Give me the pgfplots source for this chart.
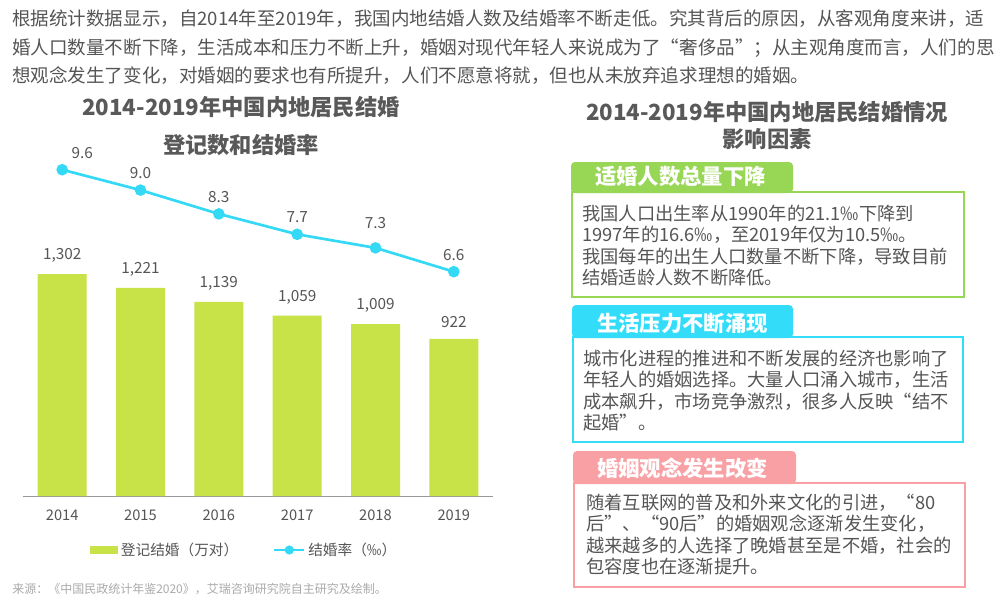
\documentclass[border=0pt]{standalone}
\usepackage{pgfplots}
\pgfplotsset{compat=1.18}
\usepackage{pgfplotstable}
\usepackage{fontspec}
\setmainfont{Noto Sans CJK SC}
\definecolor{bargreen}{HTML}{C8E348}
\definecolor{linecyan}{HTML}{33D9F5}
\definecolor{tabgreen}{HTML}{98D655}
\definecolor{tabcyan}{HTML}{33DDFA}
\definecolor{tabpink}{HTML}{F9A0A5}
\definecolor{txt}{HTML}{555555}
\definecolor{ttl}{HTML}{595959}
\definecolor{src}{HTML}{AAAAAA}

\pgfplotstableread{
x y lab
0 1302 1,302
1 1221 1,221
2 1139 1,139
3 1059 1,059
4 1009 1,009
5 922 922
}\bardata

\pgfplotstableread{
x y lab
0 9.6 9.6
1 9.0 9.0
2 8.3 8.3
3 7.7 7.7
4 7.3 7.3
5 6.6 6.6
}\ratedata

\begin{document}
\begin{tikzpicture}
\begin{scope}[x=0.75pt,y=-0.75pt]
\useasboundingbox (0,0) rectangle (1000,604);
\fill[white] (0,0) rectangle (1000,604);
% top paragraph
\begin{scope}[every node/.style={anchor=base west, inner sep=0pt, text=txt, font=\fontsize{13.9}{16}\selectfont}]
\node at (12,25) {根据统计数据显示，自2014年至2019年，我国内地结婚人数及结婚率不断走低。究其背后的原因，从客观角度来讲，适};
\node at (12,54) {婚人口数量不断下降，生活成本和压力不断上升，婚姻对现代年轻人来说成为了“奢侈品”；从主观角度而言，人们的思};
\node at (12,82) {想观念发生了变化，对婚姻的要求也有所提升，人们不愿意将就，但也从未放弃追求理想的婚姻。};
\end{scope}
% titles
\begin{scope}[every node/.style={anchor=base, inner sep=0pt, text=ttl, font=\fontsize{16.7}{19}\selectfont\bfseries}]
\node at (241,115) {2014-2019年中国内地居民结婚};
\node at (241,153) {登记数和结婚率};
\node at (767,120) {2014-2019年中国内地居民结婚情况};
\node at (767,147) {影响因素};
\end{scope}
% tabs and boxes
\fill[tabgreen, rounded corners=3] (571,193) -- (571,162) -- (793,162) -- (793,193) -- cycle;
\draw[tabgreen, line width=1.9pt] (572,192) rectangle (964,297);
\fill[tabcyan, rounded corners=3] (572,338) -- (572,305) -- (793,305) -- (793,338) -- cycle;
\draw[tabcyan, line width=1.9pt] (573,337) rectangle (963,442);
\fill[tabpink, rounded corners=3] (573,484) -- (573,451) -- (796,451) -- (796,484) -- cycle;
\draw[tabpink, line width=1.9pt] (574,483) rectangle (965,587);
\begin{scope}[every node/.style={anchor=base west, inner sep=0pt, text=white, font=\fontsize{16}{18}\selectfont\bfseries}]
\node at (595,184) {适婚人数总量下降};
\node at (597,331) {生活压力不断涌现};
\node at (597,476) {婚姻观念发生改变};
\end{scope}
\begin{scope}[every node/.style={anchor=base west, inner sep=0pt, text=txt, font=\fontsize{13.7}{16}\selectfont}]
\node at (582,220) {我国人口出生率从1990年的21.1‰下降到};
\node at (582,241.5) {1997年的16.6‰，至2019年仅为10.5‰。};
\node at (582,263) {我国每年的出生人口数量不断下降，导致目前};
\node at (582,284.5) {结婚适龄人数不断降低。};
\node at (583,365) {城市化进程的推进和不断发展的经济也影响了};
\node at (583,386.5) {年轻人的婚姻选择。大量人口涌入城市，生活};
\node at (583,408) {成本飙升，市场竞争激烈，很多人反映“结不};
\node at (583,429.5) {起婚”。};
\node at (586,509) {随着互联网的普及和外来文化的引进，“80};
\node at (586,530.5) {后”、“90后”的婚姻观念逐渐发生变化，};
\node at (586,552) {越来越多的人选择了晚婚甚至是不婚，社会的};
\node at (586,573.5) {包容度也在逐渐提升。};
\end{scope}
\node[anchor=base west, inner sep=0pt, text=src, font=\fontsize{9}{11}\selectfont] at (12,593) {来源：《中国民政统计年鉴2020》，艾瑞咨询研究院自主研究及绘制。};
\end{scope}

% bar axis
\begin{axis}[
 at={(17.25pt,-372pt)}, anchor=south west,
 width=352.5pt, height=259.5pt, scale only axis,
 xmin=-0.5, xmax=5.5, ymin=0, ymax=2031,
 clip=false,
 axis x line*=bottom, axis y line=none,
 x axis line style={draw=black!40, line width=0.6pt, -},
 xtick={0,...,5}, xticklabels={2014,2015,2016,2017,2018,2019},
 ytick=\empty,
 major tick length=0pt,
 xticklabel style={font=\fontsize{11}{13}\selectfont, text=txt, yshift=-7pt},
 ybar, bar width=36.75pt,
 nodes near coords, point meta=explicit symbolic,
 every node near coord/.append style={font=\fontsize{11.5}{13}\selectfont, text=txt, yshift=5pt},
 legend columns=2,
 legend cell align=left,
 legend style={at={(rel axis cs:0.1426,0)}, anchor=west, yshift=-40.5pt, draw=none, fill=none, inner sep=0pt,
   font=\fontsize{11}{13}\selectfont, text=txt,
   /tikz/every even column/.append style={column sep=24pt}},
]
\addplot[fill=bargreen, draw=none,
  legend image code/.code={\fill[bargreen] (0pt,-3pt) rectangle (21pt,3pt);}]
  table[x=x,y=y,meta=lab]{\bardata};
\addlegendentry{登记结婚（万对）}
\addlegendimage{legend image code/.code={\draw[linecyan, line width=2pt] (0pt,0pt) -- (22.5pt,0pt); \fill[linecyan] (11.25pt,0pt) circle (3.2pt);}}
\addlegendentry{结婚率（‰）}
\end{axis}

% rate axis
\begin{axis}[
 at={(17.25pt,-372pt)}, anchor=south west,
 width=352.5pt, height=259.5pt, scale only axis,
 xmin=-0.5, xmax=5.5, ymin=0, ymax=10.18,
 clip=false, hide axis,
 point meta=explicit symbolic,
 every node near coord/.append style={font=\fontsize{11.5}{13}\selectfont, text=txt, yshift=5pt},
]
\addplot[linecyan, line width=2pt, mark=*, mark size=3.3pt, mark options={fill=linecyan, draw=linecyan}]
  table[x=x,y=y]{\ratedata};
\addplot[draw=none, mark=none, nodes near coords, every node near coord/.append style={xshift=15pt}]
  coordinates {(0,9.6) [9.6]};
\addplot[draw=none, mark=none, nodes near coords]
  coordinates {(1,9.0) [9.0] (2,8.3) [8.3] (3,7.7) [7.7] (5,6.6) [6.6]};
\addplot[draw=none, mark=none, nodes near coords, every node near coord/.append style={yshift=6pt}]
  coordinates {(4,7.3) [7.3]};
\end{axis}
\end{tikzpicture}
\end{document}
